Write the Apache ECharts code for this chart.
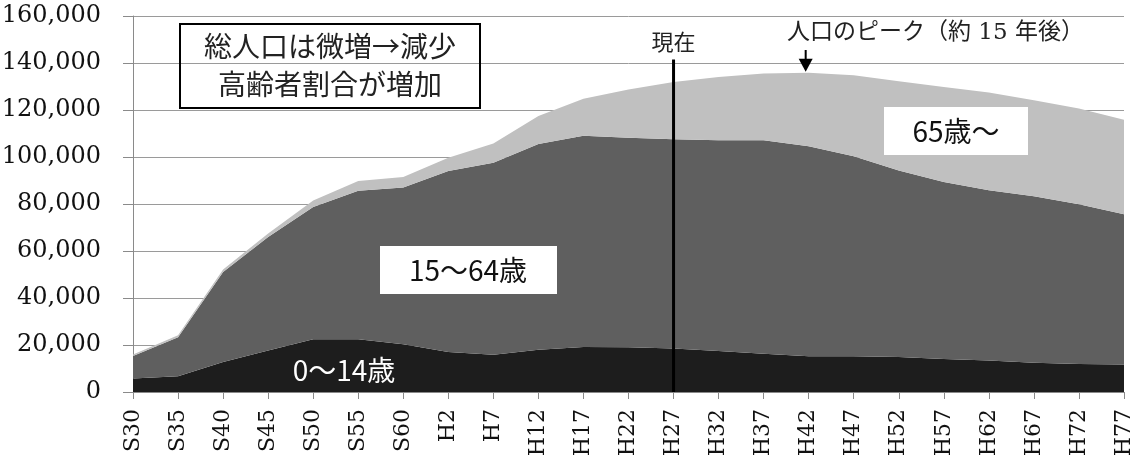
<!DOCTYPE html>
<html>
<head>
<meta charset="utf-8">
<script src="https://cdn.jsdelivr.net/npm/echarts@6/dist/echarts.min.js"></script>
<style>
html,body{margin:0;padding:0;background:#fff;}
#main{width:1142px;height:464px;}
</style>
</head>
<body>
<div id="main"></div>
<script>
const categories = ['S30','S35','S40','S45','S50','S55','S60','H2','H7','H12','H17','H22','H27','H32','H37','H42','H47','H52','H57','H62','H67','H72','H77'];
const age0to14  = [5700, 6700, 12800, 17700, 22400, 22400, 20300, 17000, 15900, 18000, 19100, 19000, 18500, 17500, 16300, 15200, 15200, 14900, 14000, 13400, 12500, 11900, 11700];
const age15to64 = [9600, 16600, 38300, 48300, 56300, 63200, 66700, 77000, 81700, 87500, 89900, 89200, 89100, 89600, 90800, 89400, 85100, 79400, 75400, 72400, 70800, 68000, 63900];
const age65plus = [700, 800, 1000, 1400, 2800, 4200, 4500, 5700, 8100, 12000, 15800, 20500, 24300, 26900, 28400, 31300, 34500, 37900, 40400, 41600, 40800, 40700, 40300];
const yMin = 0, yMax = 160000, yInterval = 20000;
const seriesNames = ['0～14歳', '15～64歳', '65歳～'];
const nowCategory = 'H27';
const peakCategory = 'H42';

const serif = '"DejaVu Serif", "Liberation Serif", serif';
const jp = '"Noto Sans CJK JP", sans-serif';
const serifJp = '"DejaVu Serif", "Noto Sans CJK JP", serif';

const chart = echarts.init(document.getElementById('main'), null, {renderer: 'canvas'});

function areaSeries(name, data, color) {
  return {
    name: name, type: 'line', stack: 'pop', data: data,
    symbol: 'none', smooth: false,
    lineStyle: {width: 0},
    areaStyle: {color: color, opacity: 1},
    itemStyle: {color: color},
    emphasis: {disabled: true},
    z: 2
  };
}

chart.setOption({
  animation: false,
  grid: {left: 133, right: 18, top: 16, bottom: 72, containLabel: false, outerBoundsMode: 'none'},
  xAxis: {
    type: 'category', data: categories, boundaryGap: false,
    axisLine: {show: true, lineStyle: {color: '#8a8a8a', width: 1}},
    axisTick: {show: true, alignWithLabel: true, length: 7, lineStyle: {color: '#8a8a8a'}},
    axisLabel: {rotate: 90, margin: 17, color: '#111', fontFamily: serif, fontSize: 22, interval: 0},
    splitLine: {show: false}
  },
  yAxis: {
    type: 'value', min: yMin, max: yMax, interval: yInterval,
    axisLine: {show: true, lineStyle: {color: '#8a8a8a', width: 1}},
    axisTick: {show: true, length: 10, lineStyle: {color: '#8a8a8a'}},
    axisLabel: {margin: 32, color: '#111', fontFamily: serif, fontSize: 24,
      formatter: v => v.toLocaleString('en-US')},
    splitLine: {show: true, lineStyle: {color: '#9a9a9a', width: 1}}
  },
  series: [
    areaSeries(seriesNames[0], age0to14, '#1d1d1d'),
    areaSeries(seriesNames[1], age15to64, '#5f5f5f'),
    areaSeries(seriesNames[2], age65plus, '#c0c0c0')
  ]
});

const nowX = chart.convertToPixel({xAxisIndex: 0}, nowCategory);
const peakIdx = categories.indexOf(peakCategory);
const peakX = chart.convertToPixel({xAxisIndex: 0}, peakCategory);
const peakTotal = age0to14[peakIdx] + age15to64[peakIdx] + age65plus[peakIdx];
const peakTipY = chart.convertToPixel({yAxisIndex: 0}, peakTotal) - 1;
const baseY = chart.convertToPixel({yAxisIndex: 0}, 0);
const nowTopY = chart.convertToPixel({yAxisIndex: 0}, 141500);

chart.setOption({
  graphic: [
    {type: 'line', z: 50, shape: {x1: nowX, y1: nowTopY, x2: nowX, y2: baseY}, style: {stroke: '#000', lineWidth: 3}},
    {type: 'text', z: 50, x: nowX, y: 42, style: {text: '現在', font: '22px ' + jp, fill: '#222', align: 'center', verticalAlign: 'middle'}},
    {type: 'line', z: 50, shape: {x1: peakX - 3, y1: 50, x2: peakX - 3, y2: peakTipY - 10}, style: {stroke: '#000', lineWidth: 2}},
    {type: 'polygon', z: 50, shape: {points: [[peakX - 10, peakTipY - 13], [peakX + 4, peakTipY - 13], [peakX - 3, peakTipY]]}, style: {fill: '#000'}},
    {type: 'text', z: 50, x: 787, y: 33, style: {text: '人口のピーク（約 15 年後）', font: '23px ' + serifJp, fill: '#222', align: 'left', verticalAlign: 'middle'}},
    {type: 'rect', z: 50, shape: {x: 180, y: 24, width: 300, height: 84}, style: {fill: 'rgba(255,255,255,0)', stroke: '#000', lineWidth: 2}},
    {type: 'text', z: 51, x: 330, y: 46, style: {text: '総人口は微増→減少', font: '28px ' + jp, fill: '#222', align: 'center', verticalAlign: 'middle'}},
    {type: 'text', z: 51, x: 330, y: 84, style: {text: '高齢者割合が増加', font: '28px ' + jp, fill: '#222', align: 'center', verticalAlign: 'middle'}},
    {type: 'rect', z: 50, shape: {x: 884, y: 107, width: 144, height: 48}, style: {fill: '#fff'}},
    {type: 'text', z: 51, x: 956, y: 131, style: {text: seriesNames[2], font: '28px ' + jp, fill: '#111', align: 'center', verticalAlign: 'middle'}},
    {type: 'rect', z: 50, shape: {x: 380, y: 246, width: 177, height: 48}, style: {fill: '#fff'}},
    {type: 'text', z: 51, x: 468, y: 270, style: {text: seriesNames[1], font: '28px ' + jp, fill: '#111', align: 'center', verticalAlign: 'middle'}},
    {type: 'text', z: 51, x: 344, y: 370, style: {text: seriesNames[0], font: '28px ' + jp, fill: '#fff', align: 'center', verticalAlign: 'middle'}}
  ]
});
</script>
</body>
</html>
